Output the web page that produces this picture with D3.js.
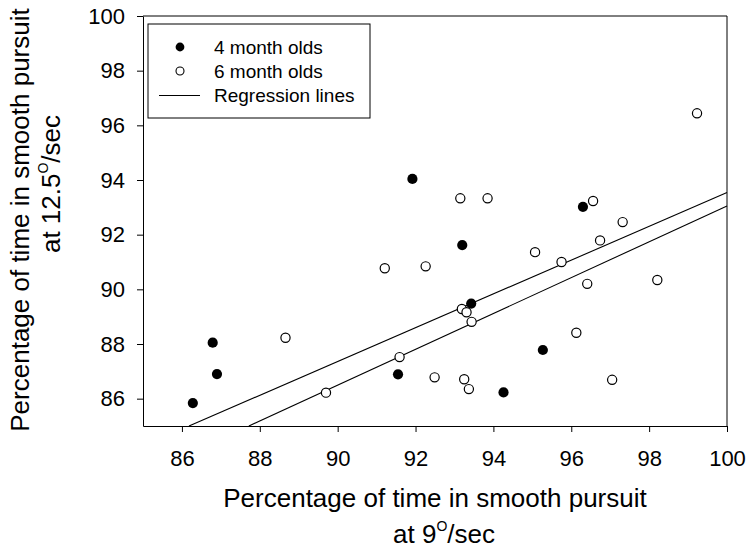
<!DOCTYPE html>
<html lang="en">
<head>
  <meta charset="UTF-8" />
  <title>Smooth pursuit 9 vs 12.5 deg/sec</title>
  <script src="https://d3js.org/d3.v7.min.js"></script>
  <style>
    body {
      margin: 0;
      background: #fff;
    }
    svg {
      display: block;
    }
    svg text {
      font-family: 'Liberation Sans', Arial, sans-serif;
      fill: #000;
    }
    .axis path,
    .axis line {
      stroke: #000;
    }
    .axis text {
      font-size: 22px;
    }
    .axis-title {
      font-size: 26px;
    }
    .legend text {
      font-size: 19px;
    }
  </style>
</head>
<body>
  <div id="chart"></div>

  <script>
    // 4 month olds (filled circles): % at 9 deg/sec, % at 12.5 deg/sec
    const fourMonthX = [86.79, 86.90, 86.28, 91.92, 93.20, 93.43, 91.55, 94.26, 96.30, 95.27];
    const fourMonthY = [88.05, 86.90, 85.84, 94.04, 91.62, 89.48, 86.89, 86.23, 93.02, 87.78];

    // 6 month olds (open circles)
    const sixMonthX = [88.66, 89.70, 93.15, 93.85, 91.21, 92.26, 93.19, 93.31, 93.44, 91.59,
                       92.49, 93.25, 93.37, 99.23, 96.56, 97.32, 96.74, 95.07, 95.75, 96.41,
                       98.21, 96.13, 97.05];
    const sixMonthY = [88.23, 86.22, 93.33, 93.33, 90.77, 90.84, 89.28, 89.16, 88.81, 87.52,
                       86.78, 86.71, 86.35, 96.44, 93.23, 92.46, 91.79, 91.36, 91.00, 90.20,
                       90.34, 88.41, 86.69];

    // regression lines: y = intercept + slope * x
    const lineIntercepts = [31.74, 27.50];
    const lineSlopes = [0.618, 0.6555];

    const xTicks = [86, 88, 90, 92, 94, 96, 98, 100];
    const yTicks = [86, 88, 90, 92, 94, 96, 98, 100];
    const legendLabels = ["4 month olds", "6 month olds", "Regression lines"];

    const width = 746;
    const height = 550;
    const margin = { top: 16, right: 19, bottom: 124, left: 143 };
    const innerWidth = width - margin.left - margin.right;
    const innerHeight = height - margin.top - margin.bottom;

    const svg = d3.select("#chart").append("svg")
      .attr("width", width)
      .attr("height", height);

    const g = svg.append("g")
      .attr("transform", `translate(${margin.left},${margin.top})`);

    const x = d3.scaleLinear().domain([85, 100]).range([0, innerWidth]);
    const y = d3.scaleLinear().domain([85, 100]).range([innerHeight, 0]);

    // axes
    g.append("g")
      .attr("class", "axis")
      .attr("transform", `translate(0,${innerHeight})`)
      .call(d3.axisBottom(x).tickValues(xTicks).tickSize(6).tickPadding(18).tickSizeOuter(0));

    g.append("g")
      .attr("class", "axis")
      .call(d3.axisLeft(y).tickValues(yTicks).tickSize(6).tickPadding(12).tickSizeOuter(0));

    // top and right frame lines
    g.append("line")
      .attr("x1", 0).attr("x2", innerWidth)
      .attr("y1", 0).attr("y2", 0)
      .attr("stroke", "#000");
    g.append("line")
      .attr("x1", innerWidth).attr("x2", innerWidth)
      .attr("y1", 0).attr("y2", innerHeight)
      .attr("stroke", "#000");

    // regression lines, starting where they enter the plot at y = 85
    lineIntercepts.forEach((b, i) => {
      const m = lineSlopes[i];
      const x0 = Math.max(85, (85 - b) / m);
      g.append("line")
        .attr("x1", x(x0)).attr("y1", y(b + m * x0))
        .attr("x2", x(100)).attr("y2", y(b + m * 100))
        .attr("stroke", "#000")
        .attr("stroke-width", 1.1);
    });

    // points
    g.selectAll(".six")
      .data(d3.range(sixMonthX.length))
      .enter()
      .append("circle")
      .attr("class", "six")
      .attr("cx", i => x(sixMonthX[i]))
      .attr("cy", i => y(sixMonthY[i]))
      .attr("r", 4.6)
      .attr("fill", "#fff")
      .attr("stroke", "#000")
      .attr("stroke-width", 1.2);

    g.selectAll(".four")
      .data(d3.range(fourMonthX.length))
      .enter()
      .append("circle")
      .attr("class", "four")
      .attr("cx", i => x(fourMonthX[i]))
      .attr("cy", i => y(fourMonthY[i]))
      .attr("r", 5.1)
      .attr("fill", "#000");

    // legend
    const legend = svg.append("g").attr("class", "legend");
    legend.append("rect")
      .attr("x", 148).attr("y", 24)
      .attr("width", 222).attr("height", 94)
      .attr("fill", "#fff")
      .attr("stroke", "#000");

    const rowY = [47, 71, 95.5];
    legend.append("circle")
      .attr("cx", 180).attr("cy", rowY[0]).attr("r", 4.4)
      .attr("fill", "#000");
    legend.append("circle")
      .attr("cx", 180).attr("cy", rowY[1]).attr("r", 4)
      .attr("fill", "#fff").attr("stroke", "#000").attr("stroke-width", 1.1);
    legend.append("line")
      .attr("x1", 159).attr("x2", 200)
      .attr("y1", rowY[2]).attr("y2", rowY[2])
      .attr("stroke", "#000");

    legend.selectAll(".legend-label")
      .data(legendLabels)
      .enter()
      .append("text")
      .attr("class", "legend-label")
      .attr("x", 214)
      .attr("y", (d, i) => rowY[i])
      .attr("dy", "0.36em")
      .text(d => d);

    // x axis title (two lines, superscript degree mark)
    svg.append("text")
      .attr("class", "axis-title")
      .attr("x", 435).attr("y", 507)
      .attr("text-anchor", "middle")
      .text("Percentage of time in smooth pursuit");

    const xt2 = svg.append("text")
      .attr("class", "axis-title")
      .attr("x", 444).attr("y", 543)
      .attr("text-anchor", "middle");
    xt2.append("tspan").text("at 9");
    xt2.append("tspan").attr("dy", -12).style("font-size", "14px").text("O");
    xt2.append("tspan").attr("dy", 12).text("/sec");

    // y axis title
    svg.append("text")
      .attr("class", "axis-title")
      .attr("transform", "translate(29,220) rotate(-90)")
      .attr("text-anchor", "middle")
      .text("Percentage of time in smooth pursuit");

    const yt2 = svg.append("text")
      .attr("class", "axis-title")
      .attr("transform", "translate(60,184) rotate(-90)")
      .attr("text-anchor", "middle");
    yt2.append("tspan").text("at 12.5");
    yt2.append("tspan").attr("dy", -12).style("font-size", "14px").text("O");
    yt2.append("tspan").attr("dy", 12).text("/sec");
  </script>
</body>
</html>
